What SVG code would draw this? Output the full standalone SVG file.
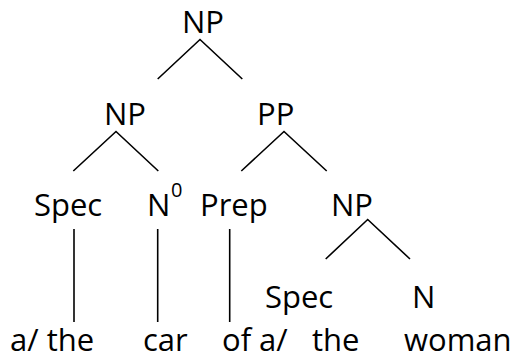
<svg xmlns="http://www.w3.org/2000/svg" width="522" height="360" viewBox="0 0 522 360">
  <style>
    .lbl { font-family: "Open Sans", "Noto Sans", sans-serif; font-size: 31px; fill: #000; }
    .sup { font-size: 20px; }
    .edge { stroke: #000; stroke-width: 1.6; fill: none; }
  </style>
  <rect width="522" height="360" fill="#fff"/>

  <!-- tree branches -->
  <g id="connectors">
    <polyline class="edge" points="157.7,79 200,39.5 242.3,79"/>
    <polyline class="edge" points="73.3,171 116,131.5 158.3,171"/>
    <polyline class="edge" points="241.3,171 284,131.5 326.7,171"/>
    <polyline class="edge" points="325.7,259 367.7,219.5 410,259"/>
    <line class="edge" x1="74" y1="229" x2="74" y2="322"/>
    <line class="edge" x1="157.7" y1="229" x2="157.7" y2="322"/>
    <line class="edge" x1="229.7" y1="229" x2="229.7" y2="322"/>
  </g>

  <!-- phrase nodes -->
  <g id="np-root"><text class="lbl" x="182" y="33">NP</text></g>
  <g id="np-subject"><text class="lbl" x="104" y="125">NP</text></g>
  <g id="pp"><text class="lbl" x="257" y="125">PP</text></g>
  <g id="spec-subject"><text class="lbl" x="34" y="216">Spec</text></g>
  <g id="n0"><text class="lbl" x="147" y="216">N<tspan class="sup" x="171" y="197">0</tspan></text></g>
  <g id="prep"><text class="lbl" x="200" y="216">Prep</text></g>
  <g id="np-object"><text class="lbl" x="331" y="216">NP</text></g>
  <g id="spec-object"><text class="lbl" x="265" y="308">Spec</text></g>
  <g id="n-object"><text class="lbl" x="412" y="308">N</text></g>

  <!-- terminal words -->
  <g id="word-a-the-1"><text class="lbl" x="10" y="351">a/ the</text></g>
  <g id="word-car"><text class="lbl" x="143" y="351">car</text></g>
  <g id="word-of"><text class="lbl" x="222" y="351">of</text></g>
  <g id="word-a"><text class="lbl" x="259" y="351">a/</text></g>
  <g id="word-the"><text class="lbl" x="312" y="351">the</text></g>
  <g id="word-woman"><text class="lbl" x="404" y="351">woman</text></g>
</svg>
